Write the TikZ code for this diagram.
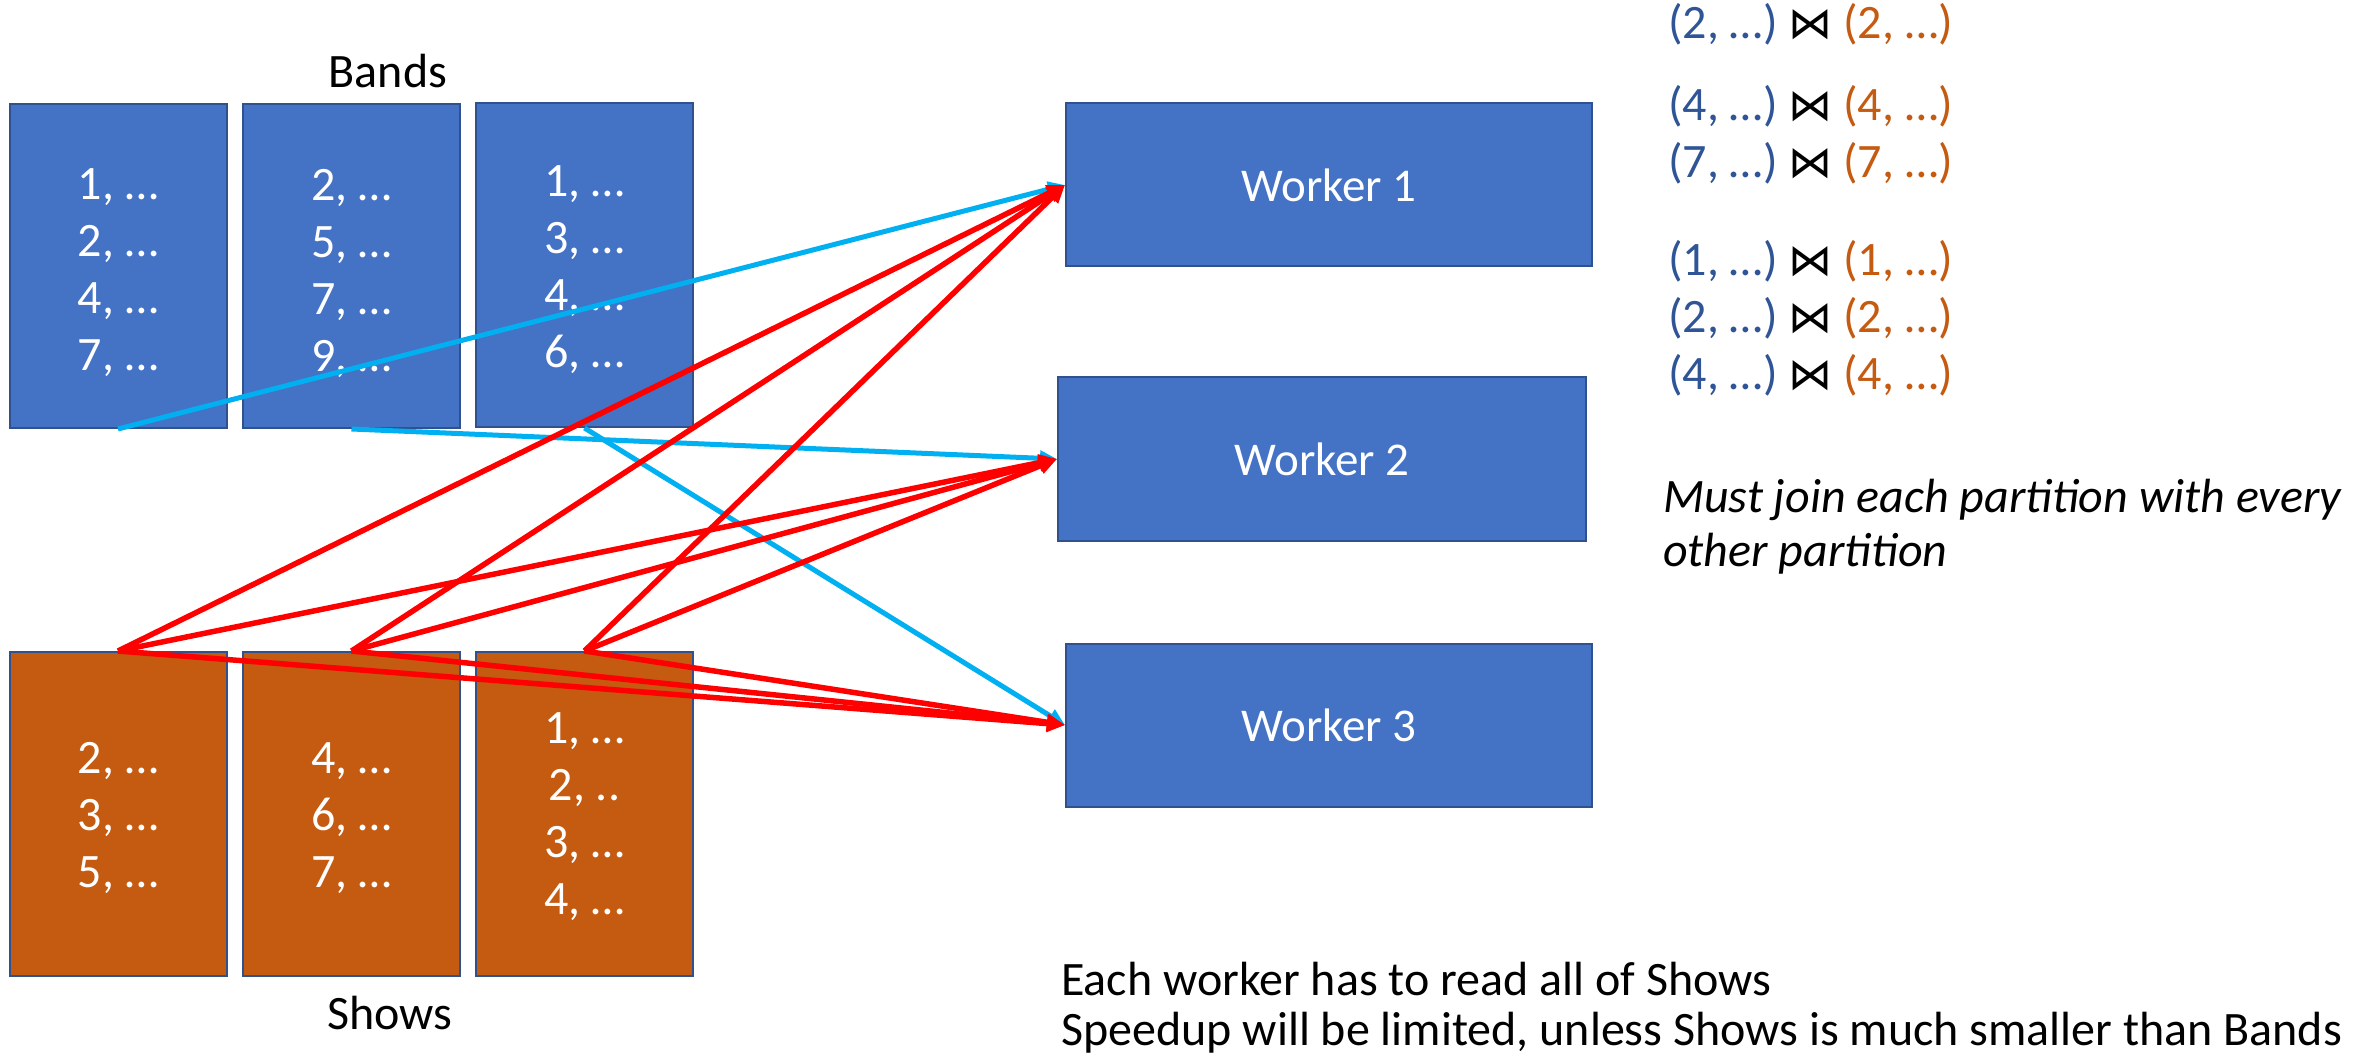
\documentclass[tikz,border=0pt]{standalone}
\usepackage{fontspec}
\setmainfont{Carlito}
\newfontfamily\bowfont{DejaVu Sans}
\usetikzlibrary{arrows.meta}
\definecolor{boxblue}{HTML}{4472C4}
\definecolor{boxedge}{HTML}{2F528F}
\definecolor{boxorange}{HTML}{C55A11}
\definecolor{linkblue}{HTML}{00B0F0}
\definecolor{linkred}{HTML}{FF0000}
\definecolor{keyblue}{HTML}{2F5597}
\definecolor{keyorange}{HTML}{C55A11}
\newcommand{\joinrow}[1]{{\color{keyblue}(#1, …)} {\bowfont\fontsize{44}{50}\selectfont ⋈} {\color{keyorange}(#1, …)}}
\begin{document}
\begin{tikzpicture}[x=1pt,y=-1pt,
  part/.style={draw=boxedge, line width=2pt, minimum width=217pt, minimum height=324pt, inner sep=0pt},
  bandpart/.style={part, fill=boxblue},
  showpart/.style={part, fill=boxorange},
  parttext/.style={text=white, align=center, inner sep=0pt, font=\fontsize{48}{57}\selectfont},
  worker/.style={draw=boxedge, fill=boxblue, line width=2pt, minimum width=526pt,
    minimum height=163pt, text=white, font=\fontsize{47}{54}\selectfont},
  plain/.style={inner sep=0pt, font=\fontsize{48}{54}\selectfont, anchor=base west},
  readlink/.style={draw=linkblue, line width=5pt, -{Triangle[length=17pt,width=15pt]}},
  showlink/.style={draw=linkred, line width=5.5pt, -{Triangle[length=18pt,width=16pt]}},
]
\useasboundingbox[fill=white] (0,0) rectangle (2366,1059);

% Bands partitions
\node[bandpart] (b1) at (118,266) {};
\node[bandpart] (b2) at (351.5,266) {};
\node[bandpart] (b3) at (584.5,265) {};
\node[parttext] (b1t) at (118,273) {1, …\\2, …\\4, …\\7, …};
\node[parttext] (b2t) at (351.5,273) {2, …\\5, …\\7, …\\9, …};
\node[parttext] (b3t) at (584.5,270) {1, …\\3, …\\4, …\\6, …};
\node[plain, anchor=base] (bandslabel) at (388,88) {Bands};

% Shows partitions
\node[showpart] (s1) at (118,814) {};
\node[showpart] (s2) at (351.5,814) {};
\node[showpart] (s3) at (584.5,814) {};
\node[parttext] (s1t) at (118,818) {2, …\\3, …\\5, …};
\node[parttext] (s2t) at (351.5,818) {4, …\\6, …\\7, …};
\node[parttext] (s3t) at (584.5,817) {1, …\\2, ..\\3, …\\4, …};
\node[plain, anchor=base] (showslabel) at (390,1029) {Shows};

% Workers
\node[worker] (w1) at (1329,185) {Worker 1};
\node[worker, minimum width=528pt, minimum height=164pt] (w2) at (1322,459) {Worker 2};
\node[worker] (w3) at (1329,725) {Worker 3};

% Each Bands partition goes to one worker
\draw[readlink] (b1.south) -- (w1.west);
\draw[readlink] (b2.south) -- (w2.west);
\draw[readlink] (b3.south) -- (w3.west);

% Every Shows partition goes to every worker
\foreach \s in {s1,s2,s3}{
  \foreach \w in {w1,w2,w3}{
    \draw[showlink] (\s.north) -- (\w.west);
  }
}

% Joins computed by the workers
\node[plain] (j1) at (1668,39)  {\joinrow{2}};
\node[plain] (j2) at (1668,121) {\joinrow{4}};
\node[plain] (j3) at (1668,178) {\joinrow{7}};
\node[plain] (j4) at (1668,276) {\joinrow{1}};
\node[plain] (j5) at (1668,332) {\joinrow{2}};
\node[plain] (j6) at (1668,389) {\joinrow{4}};

% Remarks
\node[plain] (note1) at (1663,512) {\itshape Must join each partition with every};
\node[plain] (note2) at (1663,566) {\itshape other partition};
\node[plain] (cost1) at (1061,995) {Each worker has to read all of Shows};
\node[plain] (cost2) at (1061,1045) {Speedup will be limited, unless Shows is much smaller than Bands};
\end{tikzpicture}
\end{document}
